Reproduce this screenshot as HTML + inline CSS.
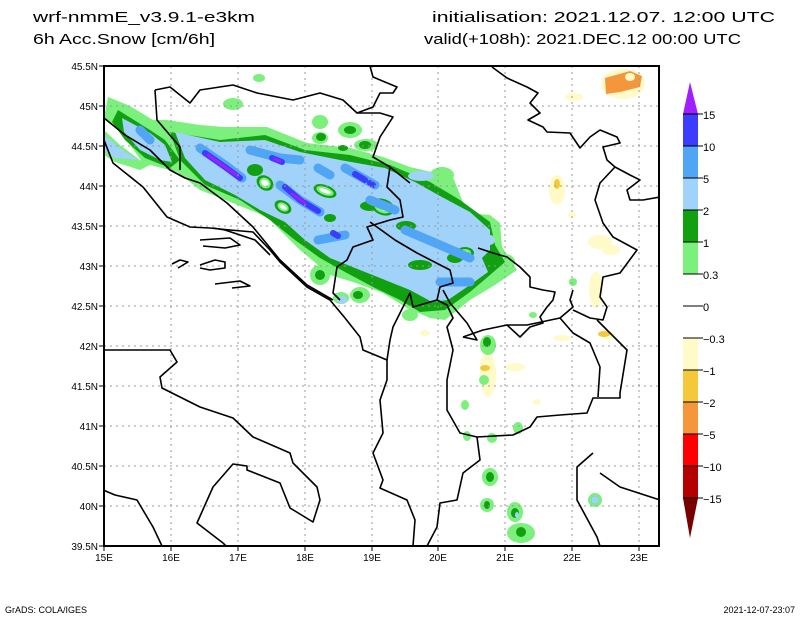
<!DOCTYPE html>
<html><head><meta charset="utf-8"><style>
html,body{margin:0;padding:0;background:#fff;}
svg{display:block;}
text{font-family:"Liberation Sans",sans-serif;fill:#000;}
</style></head><body>
<svg width="800" height="618" viewBox="0 0 800 618" xmlns="http://www.w3.org/2000/svg">
<rect width="800" height="618" fill="#fff"/>
<text x="33" y="22" font-size="15" textLength="222" lengthAdjust="spacingAndGlyphs">wrf-nmmE_v3.9.1-e3km</text>
<text x="33" y="44" font-size="15" textLength="182" lengthAdjust="spacingAndGlyphs">6h Acc.Snow [cm/6h]</text>
<text x="432" y="22" font-size="15" textLength="343" lengthAdjust="spacingAndGlyphs">initialisation: 2021.12.07.  12:00 UTC</text>
<text x="424" y="44" font-size="15" textLength="317" lengthAdjust="spacingAndGlyphs">valid(+108h): 2021.DEC.12 00:00 UTC</text>

<defs><clipPath id="c"><rect x="104" y="66" width="555" height="480"/></clipPath></defs>
<g clip-path="url(#c)" stroke-linejoin="round" stroke-linecap="round">
<g fill="#fffac8">
<ellipse cx="623" cy="84" rx="22" ry="15"/>
<ellipse cx="574" cy="97" rx="9" ry="4"/>
<ellipse cx="557" cy="190" rx="8" ry="15"/>
<ellipse cx="600" cy="242" rx="12" ry="7"/>
<ellipse cx="596" cy="290" rx="7" ry="18"/>
<ellipse cx="611" cy="250" rx="9" ry="5"/>
<ellipse cx="488" cy="375" rx="8" ry="22"/>
<ellipse cx="515" cy="367" rx="10" ry="4"/>
<ellipse cx="425" cy="333" rx="5" ry="3"/>
<ellipse cx="487" cy="362" rx="7" ry="5"/>
<ellipse cx="562" cy="338" rx="9" ry="3"/>
<ellipse cx="572" cy="215" rx="4" ry="3"/>
<ellipse cx="608" cy="335" rx="7" ry="4"/>
<ellipse cx="537" cy="402" rx="4" ry="3"/>
</g>
<g fill="#f5c83c">
<ellipse cx="557" cy="184" rx="3" ry="5"/>
<ellipse cx="485" cy="368" rx="5" ry="3"/>
<ellipse cx="604" cy="334" rx="6" ry="3"/>
</g>
<path d="M605,78 L630,71 L642,76 L640,87 L620,92 L606,94 Z" fill="#f5963c"/>
<ellipse cx="630" cy="77" rx="5" ry="4" fill="#fffac8"/>
<!-- snow band -->
<g fill="#7cf07c">
<path d="M108,97 L130,106 L153,120 L167,120 L200,125 L223,127 L267,127 L307,143 L350,148 L383,157 L410,167 L453,177 L467,213 L490,215 L500,223 L502,247 L517,270 L495,285 L470,300 L445,320 L430,318 L407,308 L383,293 L353,282 L330,275 L300,250 L267,217 L233,203 L200,190 L177,172 L143,163 L117,127 L104,118 Z"/>
<path d="M104,130 L120,145 L140,160 L150,165 L140,170 L115,162 L104,155 Z"/>
<ellipse cx="233" cy="104" rx="10" ry="6"/><ellipse cx="259" cy="78" rx="6" ry="4"/>
<ellipse cx="320" cy="122" rx="8" ry="7"/><ellipse cx="320" cy="138" rx="8" ry="6"/>
<ellipse cx="350" cy="130" rx="12" ry="8"/><ellipse cx="366" cy="145" rx="12" ry="6"/>
<ellipse cx="320" cy="275" rx="10" ry="10"/><ellipse cx="360" cy="295" rx="10" ry="8"/>
<ellipse cx="341" cy="298" rx="8" ry="6"/><ellipse cx="442" cy="175" rx="12" ry="8"/>
<ellipse cx="490" cy="240" rx="10" ry="12"/><ellipse cx="505" cy="262" rx="10" ry="8"/>
<ellipse cx="488" cy="345" rx="8" ry="10"/><ellipse cx="467" cy="436" rx="4" ry="5"/>
<ellipse cx="490" cy="477" rx="8" ry="9"/><ellipse cx="487" cy="505" rx="7" ry="7"/>
<ellipse cx="515" cy="512" rx="8" ry="10"/><ellipse cx="521" cy="533" rx="14" ry="10"/>
<ellipse cx="595" cy="500" rx="7" ry="7"/><ellipse cx="492" cy="438" rx="5" ry="5"/>
<ellipse cx="518" cy="428" rx="5" ry="6"/><ellipse cx="410" cy="315" rx="8" ry="6"/>
<ellipse cx="484" cy="380" rx="5" ry="5"/><ellipse cx="465" cy="405" rx="4" ry="5"/>
<ellipse cx="533" cy="315" rx="4" ry="3"/><ellipse cx="573" cy="282" rx="4" ry="4"/>
</g>
<g fill="#10a010">
<path d="M118,110 L150,130 L165,140 L180,160 L170,168 L145,158 L125,140 L112,122 Z"/>
<path d="M170,132 L220,140 L265,135 L305,150 L350,155 L390,165 L430,182 L460,200 L490,222 L495,245 L505,262 L490,275 L470,292 L445,310 L420,312 L400,300 L375,288 L345,272 L320,258 L295,240 L270,220 L240,200 L205,185 L180,160 Z"/>
<ellipse cx="321" cy="137" rx="5" ry="4"/><ellipse cx="350" cy="130" rx="6" ry="4"/>
<ellipse cx="343" cy="148" rx="5" ry="3"/><ellipse cx="365" cy="145" rx="6" ry="4"/>
<ellipse cx="320" cy="275" rx="5" ry="5"/><ellipse cx="358" cy="295" rx="5" ry="4"/>
<ellipse cx="487" cy="342" rx="4" ry="5"/><ellipse cx="490" cy="477" rx="4" ry="5"/>
<ellipse cx="515" cy="513" rx="4" ry="5"/><ellipse cx="487" cy="505" rx="3" ry="4"/>
<ellipse cx="521" cy="532" rx="5" ry="5"/><ellipse cx="595" cy="500" rx="4" ry="4"/>
</g>
<g fill="#a0d2fa">
<path d="M122,118 L150,133 L165,145 L172,162 L160,160 L140,150 L124,132 Z"/>
<path d="M104,135 L125,152 L140,160 L115,158 L104,150 Z" />
<path d="M175,132 L220,142 L265,140 L300,152 L340,160 L385,168 L415,182 L440,196 L470,212 L490,230 L490,250 L482,258 L488,272 L470,285 L448,300 L432,302 L410,290 L385,280 L355,268 L330,258 L305,240 L285,222 L260,210 L235,195 L205,180 L185,158 Z"/>
<ellipse cx="421" cy="176" rx="13" ry="5"/>
<ellipse cx="490" cy="240" rx="5" ry="5"/><ellipse cx="595" cy="500" rx="4" ry="4"/>
<ellipse cx="342" cy="300" rx="5" ry="4"/><ellipse cx="517" cy="515" rx="2" ry="3"/>
</g>
<!-- internal holes: green rim then white -->
<g fill="#10a010">
<ellipse cx="255" cy="170" rx="8" ry="6"/><ellipse cx="370" cy="206" rx="10" ry="5"/>
<ellipse cx="330" cy="218" rx="6" ry="4"/><ellipse cx="420" cy="265" rx="12" ry="5"/>
<ellipse cx="455" cy="258" rx="8" ry="5"/>
<ellipse cx="265" cy="183" rx="9" ry="7" transform="rotate(35 265 183)"/>
<ellipse cx="283" cy="207" rx="9" ry="6" transform="rotate(30 283 207)"/>
<ellipse cx="325" cy="191" rx="12" ry="6" transform="rotate(20 325 191)"/>
<ellipse cx="383" cy="207" rx="12" ry="8" transform="rotate(20 383 207)"/>
<ellipse cx="465" cy="253" rx="9" ry="6"/>
<ellipse cx="406" cy="226" rx="10" ry="5"/>
</g>
<g fill="#7cf07c">
<ellipse cx="265" cy="183" rx="6" ry="5" transform="rotate(35 265 183)"/>
<ellipse cx="283" cy="207" rx="6" ry="4" transform="rotate(30 283 207)"/>
<ellipse cx="325" cy="191" rx="9" ry="4" transform="rotate(20 325 191)"/>
<ellipse cx="383" cy="207" rx="9" ry="6" transform="rotate(20 383 207)"/>
<ellipse cx="465" cy="253" rx="6" ry="4"/>
</g>
<g fill="#fff">
<ellipse cx="265" cy="183" rx="4" ry="3" transform="rotate(35 265 183)"/>
<ellipse cx="283" cy="207" rx="4" ry="2" transform="rotate(30 283 207)"/>
<ellipse cx="325" cy="191" rx="6" ry="2" transform="rotate(20 325 191)"/>
<ellipse cx="385" cy="207" rx="5" ry="4" transform="rotate(20 385 207)"/>
<ellipse cx="465" cy="253" rx="3" ry="2"/>
</g>
<g stroke="#50a5f5" fill="none" stroke-width="9">
<polyline points="200,148 225,165 242,178"/>
<polyline points="250,150 280,158 300,160"/>
<polyline points="280,185 300,200 320,212"/>
<polyline points="318,168 330,175"/>
<polyline points="345,168 375,185"/>
<polyline points="370,200 395,210"/>
<polyline points="405,230 440,245 470,258"/>
<polyline points="440,282 470,282"/>
<polyline points="318,240 345,235"/>
<polyline points="140,130 150,140"/>
</g>
<g stroke="#3c3cff" fill="none" stroke-width="6">
<polyline points="205,153 225,167 240,178"/>
<polyline points="272,158 282,162"/>
<polyline points="285,187 300,200 318,211"/>
<polyline points="355,174 365,180"/>
<polyline points="333,233 338,236"/>
<polyline points="370,183 373,185"/>
</g>
<g stroke="#a01eff" fill="none" stroke-width="3">
<polyline points="208,155 225,167 238,176"/>
<polyline points="275,159 280,161"/>
<polyline points="292,194 305,203"/>
</g>
</g>
<g stroke="#999" stroke-width="1" stroke-dasharray="2,4">
<line x1="171" y1="66" x2="171" y2="546"/><line x1="238" y1="66" x2="238" y2="546"/>
<line x1="305" y1="66" x2="305" y2="546"/><line x1="372" y1="66" x2="372" y2="546"/>
<line x1="438" y1="66" x2="438" y2="546"/><line x1="505" y1="66" x2="505" y2="546"/>
<line x1="572" y1="66" x2="572" y2="546"/><line x1="639" y1="66" x2="639" y2="546"/>
<line x1="104" y1="106" x2="659" y2="106"/><line x1="104" y1="146" x2="659" y2="146"/>
<line x1="104" y1="186" x2="659" y2="186"/><line x1="104" y1="226" x2="659" y2="226"/>
<line x1="104" y1="266" x2="659" y2="266"/><line x1="104" y1="306" x2="659" y2="306"/>
<line x1="104" y1="346" x2="659" y2="346"/><line x1="104" y1="386" x2="659" y2="386"/>
<line x1="104" y1="426" x2="659" y2="426"/><line x1="104" y1="466" x2="659" y2="466"/>
<line x1="104" y1="506" x2="659" y2="506"/>
</g>
<g clip-path="url(#c)" fill="none" stroke="#000" stroke-width="1.6" stroke-linejoin="round">
<polyline points="105,350 170,350 177,362 160,377 162,388 200,407 233,418 253,437 290,453 293,463 317,487 320,500 313,522 290,508 280,483 247,470 247,466 233,464 213,487 197,523 223,543 230,550"/>
<polyline points="103,490 115,495 137,500 153,527 162,546"/>
<polyline points="104,140 113,163 143,187 167,217 190,227 210,228 230,230 253,232 270,250 280,262 307,287 330,300 345,318 360,337 363,350 387,360 387,380 380,400 383,433 373,453 383,480 380,488 407,500 415,520 413,546"/>
<polyline points="104,118 125,135 150,150 170,170 185,178 200,183 227,203 253,227 280,260 307,285 333,300"/>
<polyline points="155,90 170,87 190,103 200,90 233,85 257,93 293,100 320,93 343,100 357,113 380,113 393,117 380,137 373,157 390,167 410,183"/>
<polyline points="155,90 157,120 180,147 180,170"/>
<polyline points="370,66 373,77 397,87 393,93 380,93 373,107 357,113"/>
<polyline points="390,167 387,187 400,200 403,217 390,220 367,227 373,240 353,247 347,260 337,267 333,293 340,300"/>
<polyline points="370,222 395,240 417,253 450,270 453,283 440,287 437,300 413,307 410,293 393,327 390,340 387,360"/>
<polyline points="437,300 447,305 453,318 447,327 453,350 447,380 447,410 460,433 477,437 480,460 463,473 457,500 440,503 437,527 427,546"/>
<polyline points="443,290 450,303 467,323 477,340 463,337"/>
<polyline points="478,248 493,253 507,257 520,267 530,277 530,287 543,290 555,292 553,300 547,307 540,317 543,323 530,327 520,337 507,325"/>
<polyline points="477,437 513,435 530,427 537,417 560,415 587,413 593,398 620,398 620,393 627,350 610,333 597,320"/>
<polyline points="463,337 483,330 507,325 527,325 560,318 573,333 590,343 600,367 598,397"/>
<polyline points="560,318 573,307 570,300 573,290"/>
<polyline points="492,67 507,78 527,87 538,93 530,103 540,113 528,120 543,127 547,132 570,133 580,148 590,137 600,130 617,137 620,143 603,147 607,160 615,167 630,175 640,180 627,190 630,200 643,200 660,197"/>
<polyline points="615,167 600,183 595,200 603,223 613,237 637,250 620,273 603,277 600,297 607,307 603,320 590,318 573,310"/>
<polyline points="593,453 577,467 577,500 597,537 600,546"/>
<polyline points="600,473 620,487 660,500"/>
<polyline points="200,265 215,260 225,262 225,268 210,270 200,268 Z"/>
<polyline points="200,240 230,238 240,245 225,248 203,246 Z"/>
<polyline points="213,228 225,230 255,240 270,255"/>
<polyline points="172,264 180,260 188,262 178,268 Z"/>
<polyline points="215,284 240,281 250,286 232,288 Z"/>
</g>
<rect x="104" y="66" width="555" height="480" fill="none" stroke="#000" stroke-width="2"/>
<g stroke="#000" stroke-width="1">
<line x1="99" y1="66" x2="104" y2="66"/><line x1="99" y1="106" x2="104" y2="106"/><line x1="99" y1="146" x2="104" y2="146"/><line x1="99" y1="186" x2="104" y2="186"/><line x1="99" y1="226" x2="104" y2="226"/><line x1="99" y1="266" x2="104" y2="266"/><line x1="99" y1="306" x2="104" y2="306"/><line x1="99" y1="346" x2="104" y2="346"/><line x1="99" y1="386" x2="104" y2="386"/><line x1="99" y1="426" x2="104" y2="426"/><line x1="99" y1="466" x2="104" y2="466"/><line x1="99" y1="506" x2="104" y2="506"/><line x1="99" y1="546" x2="104" y2="546"/>
<line x1="104" y1="546" x2="104" y2="551"/><line x1="171" y1="546" x2="171" y2="551"/><line x1="238" y1="546" x2="238" y2="551"/><line x1="305" y1="546" x2="305" y2="551"/><line x1="372" y1="546" x2="372" y2="551"/><line x1="438" y1="546" x2="438" y2="551"/><line x1="505" y1="546" x2="505" y2="551"/><line x1="572" y1="546" x2="572" y2="551"/><line x1="639" y1="546" x2="639" y2="551"/>
</g>
<g font-size="10" text-anchor="end">
<text x="98" y="70">45.5N</text><text x="98" y="110">45N</text><text x="98" y="150">44.5N</text><text x="98" y="190">44N</text><text x="98" y="230">43.5N</text><text x="98" y="270">43N</text><text x="98" y="310">42.5N</text><text x="98" y="350">42N</text><text x="98" y="390">41.5N</text><text x="98" y="430">41N</text><text x="98" y="470">40.5N</text><text x="98" y="510">40N</text><text x="98" y="550">39.5N</text>
</g>
<g font-size="10" text-anchor="middle">
<text x="104" y="561">15E</text><text x="171" y="561">16E</text><text x="238" y="561">17E</text><text x="305" y="561">18E</text><text x="372" y="561">19E</text><text x="438" y="561">20E</text><text x="505" y="561">21E</text><text x="572" y="561">22E</text><text x="639" y="561">23E</text>
</g>
<polygon points="690,82 683,114 698,114" fill="#a01eff"/>
<rect x="683" y="114" width="15" height="32" fill="#3c3cff"/>
<rect x="683" y="146" width="15" height="32" fill="#50a5f5"/>
<rect x="683" y="178" width="15" height="32" fill="#a0d2fa"/>
<rect x="683" y="210" width="15" height="32" fill="#10a010"/>
<rect x="683" y="242" width="15" height="32" fill="#7cf07c"/>
<rect x="683" y="338" width="15" height="32" fill="#fffac8"/>
<rect x="683" y="370" width="15" height="32" fill="#f5c83c"/>
<rect x="683" y="402" width="15" height="32" fill="#f5963c"/>
<rect x="683" y="434" width="15" height="32" fill="#ff0000"/>
<rect x="683" y="466" width="15" height="32" fill="#b40000"/>
<polygon points="683,498 698,498 690,538" fill="#780000"/>
<g stroke="#000" stroke-width="1">
<line x1="683" y1="146" x2="703" y2="146"/><line x1="683" y1="178" x2="703" y2="178"/><line x1="683" y1="210" x2="703" y2="210"/><line x1="683" y1="242" x2="703" y2="242"/><line x1="683" y1="274" x2="703" y2="274"/><line x1="683" y1="306" x2="703" y2="306"/><line x1="683" y1="338" x2="703" y2="338"/><line x1="683" y1="370" x2="703" y2="370"/><line x1="683" y1="402" x2="703" y2="402"/><line x1="683" y1="434" x2="703" y2="434"/><line x1="683" y1="466" x2="703" y2="466"/><line x1="683" y1="498" x2="703" y2="498"/><line x1="683" y1="114" x2="703" y2="114"/>
</g>
<g font-size="11">
<text x="703" y="119">15</text><text x="703" y="151">10</text><text x="703" y="183">5</text><text x="703" y="215">2</text><text x="703" y="247">1</text><text x="703" y="279">0.3</text><text x="703" y="311">0</text><text x="703" y="343">−0.3</text><text x="703" y="375">−1</text><text x="703" y="407">−2</text><text x="703" y="439">−5</text><text x="703" y="471">−10</text><text x="703" y="503">−15</text>
</g>
<text x="5" y="613" font-size="9">GrADS: COLA/IGES</text>
<text x="795" y="613" font-size="9" text-anchor="end">2021-12-07-23:07</text>
</svg>
</body></html>
